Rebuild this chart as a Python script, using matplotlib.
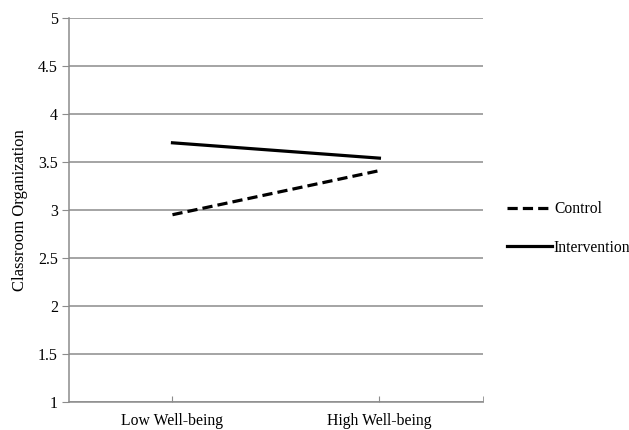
import matplotlib
matplotlib.use("Agg")
import matplotlib.pyplot as plt

categories = ["Low Well-being", "High Well-being"]
control = [2.95, 3.41]
intervention = [3.70, 3.54]
yticks = [1, 1.5, 2, 2.5, 3, 3.5, 4, 4.5, 5]
ytick_labels = ["1", "1.5", "2", "2.5", "3", "3.5", "4", "4.5", "5"]

plt.rcParams['font.family'] = ['Liberation Serif', 'DejaVu Serif']

fig = plt.figure(figsize=(6.29, 4.30), dpi=100)
ax = fig.add_axes([0.1097, 0.0658, 0.658, 0.892])

x = list(range(len(categories)))
ax.plot(x, control, color="black", lw=2.3, dashes=(3.2, 1.6), label="Control")
ax.plot(x, intervention, color="black", lw=2.3, label="Intervention")

ax.set_xlim(-0.5, len(categories) - 0.5)
ax.set_ylim(1, 5)
ax.set_yticks(yticks)
ax.set_yticklabels(ytick_labels, fontsize=11.5)
ax.set_xticks(x)
ax.set_xticklabels(categories, fontsize=11.3)
ax.set_xticks([len(categories) - 0.5], minor=True)
ax.tick_params(axis='x', which='both', direction='in', length=4, color="#8c8c8c", pad=8)
ax.tick_params(axis='y', length=5, color="#8c8c8c", pad=3)

ax.grid(axis='y', color="#8c8c8c", lw=1.1)
ax.set_axisbelow(True)
for s in ["top", "right"]:
    ax.spines[s].set_visible(False)
for s in ["left", "bottom"]:
    ax.spines[s].set_color("#8c8c8c")
    ax.spines[s].set_linewidth(1.1)

ax.set_ylabel("Classroom Organization", fontsize=12, labelpad=7)

ax.legend(loc="center left", bbox_to_anchor=(1.025, 0.452), frameon=False, fontsize=11.2,
          handlelength=2.9, handletextpad=0.1, labelspacing=1.45)

plt.savefig("out.png", dpi=100)
